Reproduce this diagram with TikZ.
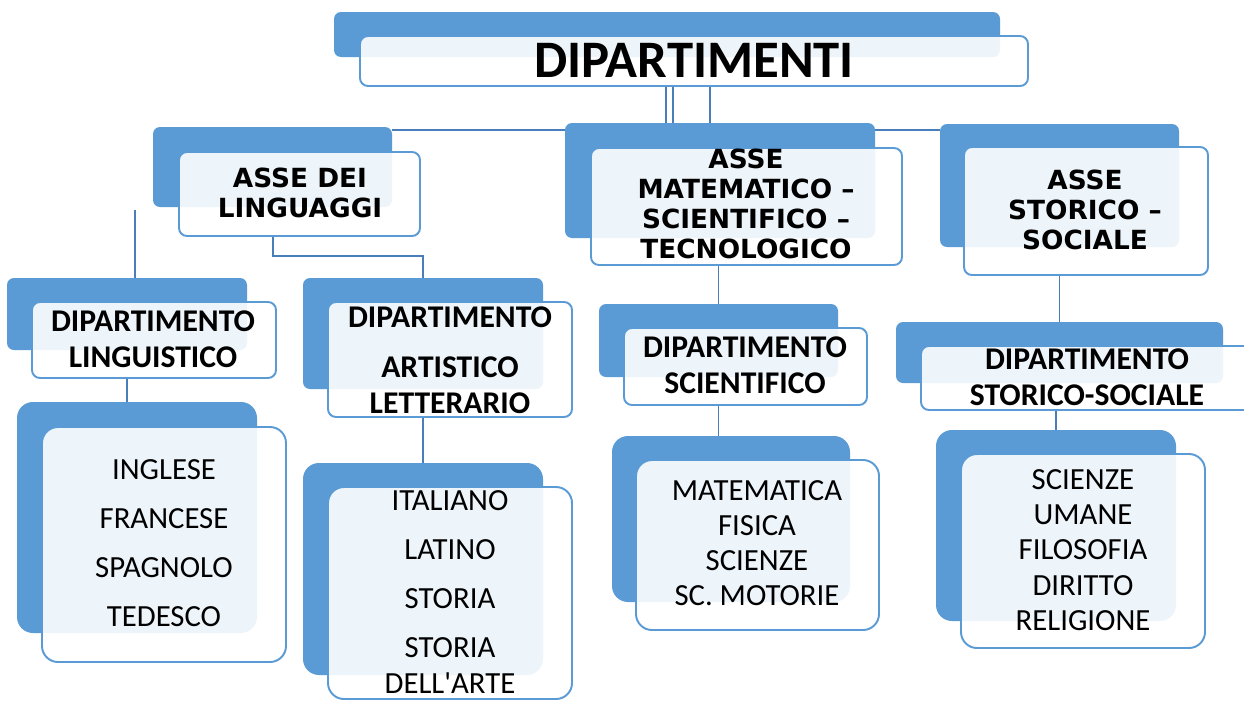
\documentclass[tikz,border=0pt]{standalone}
\usepackage{fontspec}
\setmainfont{Carlito}
\newfontfamily\decofont{DejaVu Sans}
\usetikzlibrary{fit,calc,backgrounds}
\definecolor{boxblue}{RGB}{91,155,213}
\definecolor{lineblue}{RGB}{74,126,187}

\begin{document}
\begin{tikzpicture}[x=0.02cm,y=-0.02cm,
  backbox/.style={fill=boxblue,rounded corners=0.14cm,inner sep=0pt},
  frontbox/.style={draw=boxblue,line width=1.1pt,fill=white,fill opacity=0.9,
    rounded corners=0.16cm,inner sep=0pt},
  listback/.style={backbox,rounded corners=0.32cm},
  listfront/.style={frontbox,rounded corners=0.32cm},
  link/.style={draw=lineblue,line width=1.1pt},
  asse/.style={font=\decofont\bfseries\fontsize{15}{17}\selectfont,align=center},
  head/.style={font=\bfseries\fontsize{18}{20.5}\selectfont,align=center},
  subj/.style={font=\fontsize{17.5}{27.8}\selectfont,align=center}]
  \useasboundingbox (0,0) rectangle (1244,700);

  \node[backbox,fit={(334,12) (1000,57)}] (dipB) {};
  \node[frontbox,fit={(360,36) (1028,86)}] (dip) {};

  \node[backbox,fit={(153,127) (392,207)}] (lingB) {};
  \node[frontbox,fit={(179,152) (420,236)}] (ling) {};
  \node[backbox,fit={(565,123) (875,238)}] (matB) {};
  \node[frontbox,fit={(591,148) (902,265)}] (mat) {};
  \node[backbox,fit={(940,124) (1179,247)}] (stoB) {};
  \node[frontbox,fit={(964,147) (1208,275)}] (sto) {};

  \node[backbox,fit={(7,278) (247,350)}] (linB) {};
  \node[frontbox,fit={(32,302) (276,378)}] (lin) {};
  \node[backbox,fit={(303,278) (543,389)}] (artB) {};
  \node[frontbox,fit={(328,302) (572,417)}] (art) {};
  \node[backbox,fit={(599,304) (838,377)}] (sciB) {};
  \node[frontbox,fit={(624,328) (867,405)}] (sci) {};
  \node[backbox,fit={(896,322) (1223,383)}] (stdB) {};
  \node[frontbox,fit={(921,346) (1262,410)}] (std) {};

  \node[listback,fit={(17,402) (257,633)}] (langsB) {};
  \node[listfront,fit={(42,427) (286,662)}] (langs) {};
  \node[listback,fit={(303,463) (543,675)}] (artsB) {};
  \node[listfront,fit={(328,487) (572,699)}] (arts) {};
  \node[listback,fit={(612,436) (850,602)}] (scisB) {};
  \node[listfront,fit={(636,460) (879,630)}] (scis) {};
  \node[listback,fit={(936,430) (1176,621)}] (stosB) {};
  \node[listfront,fit={(961,454) (1205,648)}] (stos) {};

  \node[font=\bfseries\fontsize{30}{36}\selectfont] (dip-t) at (694,60) {DIPARTIMENTI};
  \node[asse] (ling-t) at (300,193) {ASSE DEI\\LINGUAGGI};
  \node[asse] (mat-t) at (746,204) {ASSE\\MATEMATICO –\\SCIENTIFICO –\\TECNOLOGICO};
  \node[asse] (sto-t) at (1085,210) {ASSE\\STORICO –\\SOCIALE};
  \node[head] (lin-t) at (153,339) {DIPARTIMENTO\\LINGUISTICO};
  \node[head] (art-t) at (450,360) {DIPARTIMENTO\\[8pt]ARTISTICO\\LETTERARIO};
  \node[head] (sci-t) at (745,365) {DIPARTIMENTO\\SCIENTIFICO};
  \node[head] (std-t) at (1087,377) {DIPARTIMENTO\\STORICO-SOCIALE};
  \node[subj] (langs-t) at (164,543) {INGLESE\\FRANCESE\\SPAGNOLO\\TEDESCO};
  \node[subj,font=\fontsize{17.5}{20.4}\selectfont] (arts-t) at (450,592)
    {ITALIANO\\[7.4pt]LATINO\\[7.4pt]STORIA\\[7.4pt]STORIA\\DELL\textquotesingle ARTE};
  \node[subj,font=\fontsize{17.5}{20}\selectfont] (scis-t) at (757,543)
    {MATEMATICA\\FISICA\\SCIENZE\\SC. MOTORIE};
  \node[subj,font=\fontsize{17.5}{20}\selectfont] (stos-t) at (1083,550)
    {SCIENZE\\UMANE\\FILOSOFIA\\DIRITTO\\RELIGIONE};

  \begin{scope}[on background layer]
    \fill[white] (0,0) rectangle (1244,700);
    \coordinate (d1) at ($(dip.south)+(-28,0)$);
    \coordinate (d2) at ($(dip.south)+(-21,0)$);
    \coordinate (d3) at ($(dip.south)+(16,0)$);
    \draw[link] (d1) |- ($(lingB.north east)+(0,3)$);
    \draw[link] (d2) -- (d2 |- matB.north);
    \draw[link] (d3) |- ($(stoB.north west)+(0,6)$);
    \coordinate (lk) at (135,210);
    \draw[link] (lk) -- (lk |- linB.north);
    \coordinate (l2) at ($(ling.south)+(-26.5,0)$);
    \draw[link] (l2) -- ++(0,19) -| (artB.north);
    \draw[link] (mat.south -| sciB.north) -- (sciB.north);
    \draw[link] (sto.south -| stdB.north) -- (stdB.north);
    \draw[link] (lin.south -| linB.center) -- (langsB.north -| linB.center);
    \draw[link] (art.south -| artB.center) -- (artsB.north);
    \draw[link] (sci.south -| sciB.center) -- (scisB.north -| sciB.center);
    \draw[link] (std.south -| stosB.north) -- (stosB.north);
  \end{scope}
\end{tikzpicture}
\end{document}
